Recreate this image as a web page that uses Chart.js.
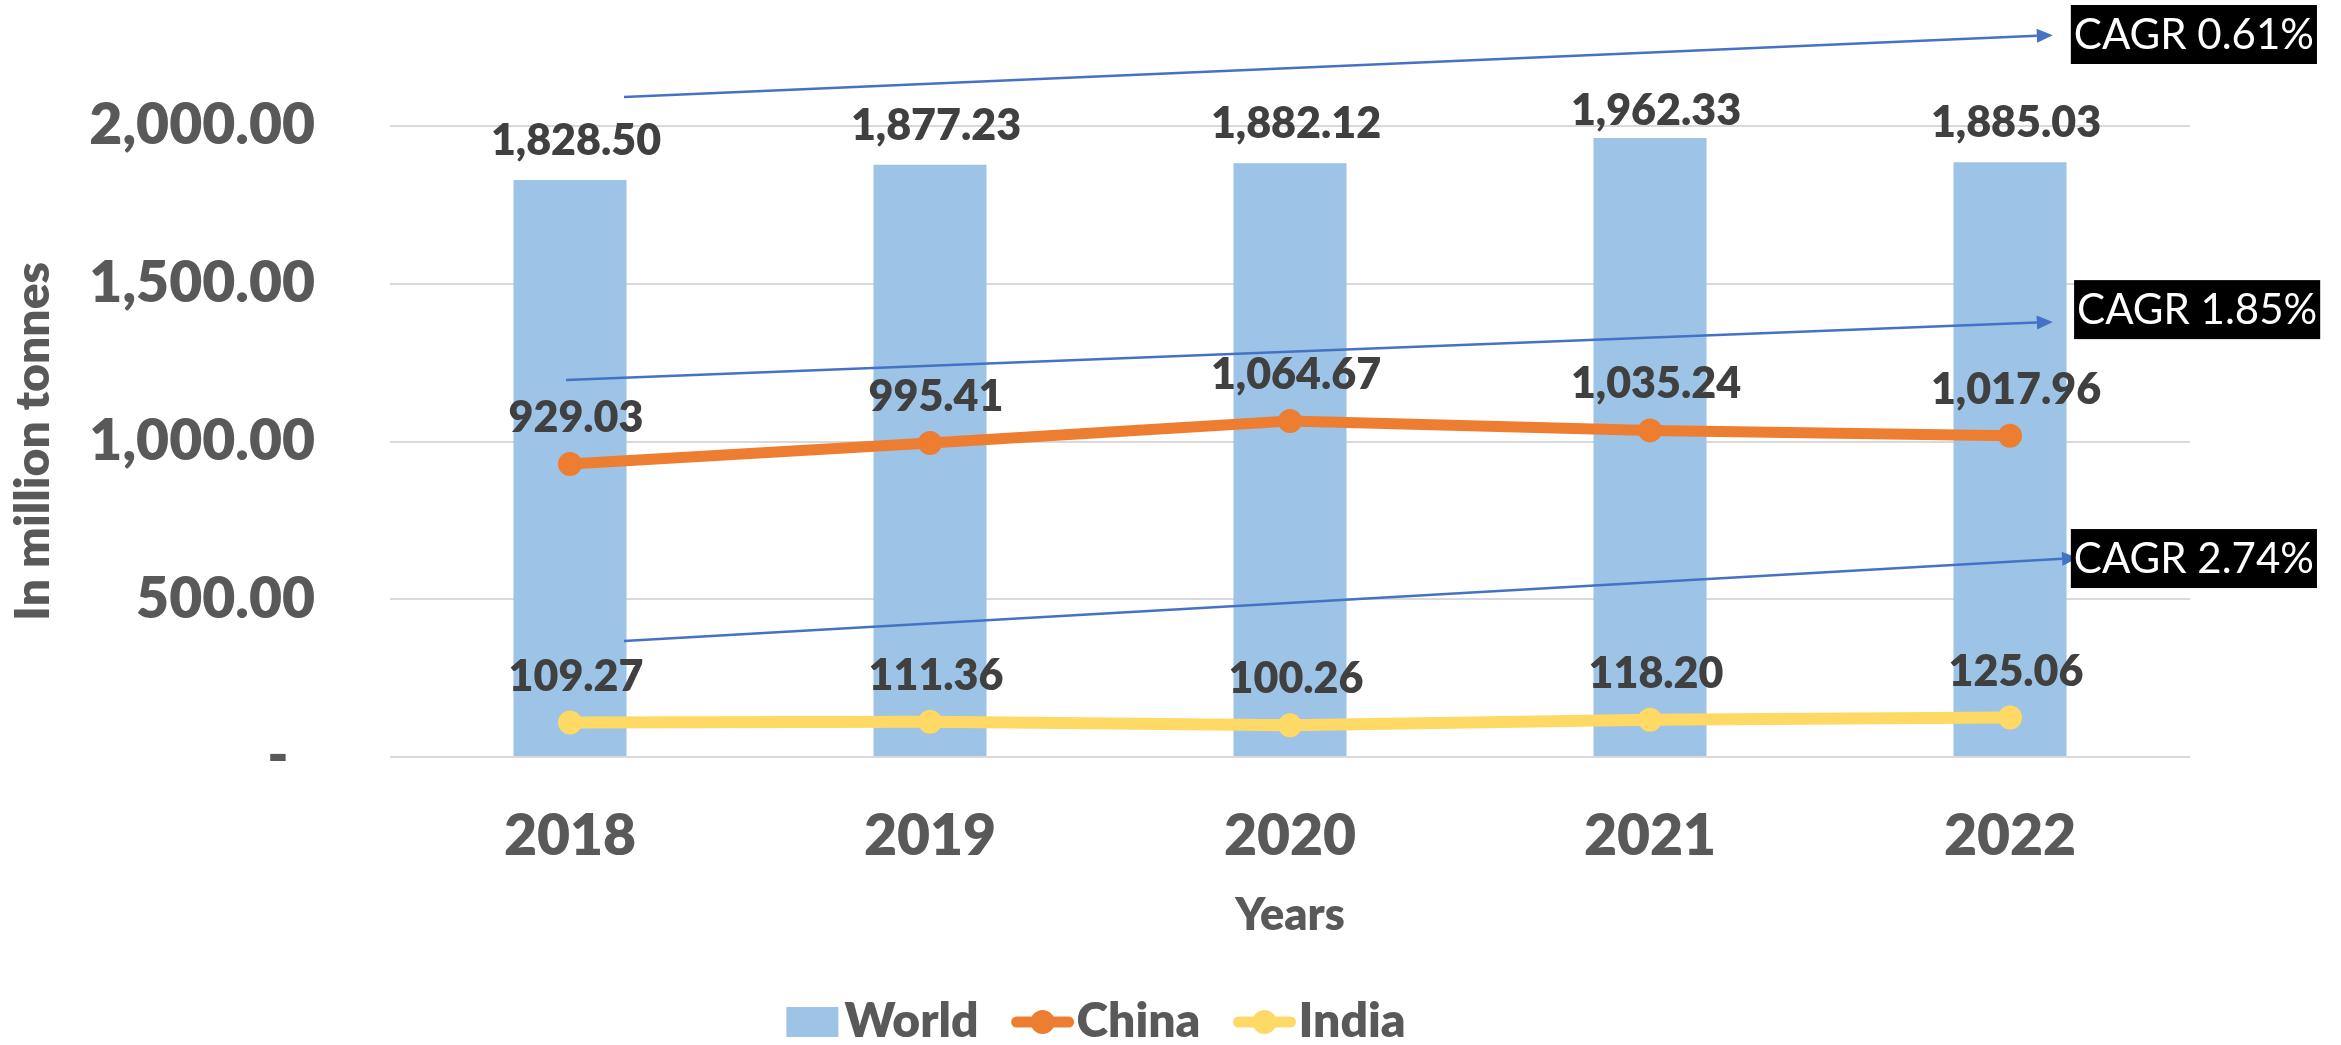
<!DOCTYPE html>
<html>
<head>
<meta charset="utf-8">
<script src="https://cdn.jsdelivr.net/npm/chart.js@4.4.1/dist/chart.umd.min.js"></script>
<style>
html,body{margin:0;padding:0;background:#ffffff;overflow:hidden}
#wrap{width:2341px;height:1045px;position:relative}
canvas{display:block}
</style>
</head>
<body>
<div id="wrap"><canvas id="c" width="2341" height="1045"></canvas></div>
<script>
// ---- data ----
const categories = ['2018', '2019', '2020', '2021', '2022'];
const worldValues = [1828.50, 1877.23, 1882.12, 1962.33, 1885.03];
const chinaValues = [929.03, 995.41, 1064.67, 1035.24, 1017.96];
const indiaValues = [109.27, 111.36, 100.26, 118.20, 125.06];
const yTickValues = [0, 500, 1000, 1500, 2000];
const seriesNames = ['World', 'China', 'India'];
const cagrLabels = ['CAGR 0.61%', 'CAGR 1.85%', 'CAGR 2.74%'];

// ---- annotation geometry (in axis units: category index, value) ----
const cagrGeometry = [
  { from: [0.15, 2092], to: [4.119, 2288], box: [4.169, 2290] },
  { from: [-0.011, 1195], to: [4.119, 1379], box: [4.178, 1418] },
  { from: [0.15, 368], to: [4.189, 631], box: [4.169, 629] }
];

// ---- styles ----
const FONT = 'Lato, "Open Sans", "DejaVu Sans", sans-serif';
const BOLD = '800';
const COLORS = { World: '#9DC3E6', China: '#ED7D31', India: '#FFD966' };
const AXIS_TEXT = '#595959';
const LABEL_TEXT = '#404040';
const GRID = '#D9D9D9';
const ARROW = '#4472C4';

function fmt(v) {
  const s = v.toFixed(2);
  const parts = s.split('.');
  parts[0] = parts[0].replace(/\B(?=(\d{3})+(?!\d))/g, ',');
  return parts.join('.');
}

const overlayPlugin = {
  id: 'overlay',
  afterDatasetsDraw(chart) {
    const ctx = chart.ctx;
    const xs = chart.scales.x, ys = chart.scales.y;
    // CAGR arrows
    ctx.save();
    cagrGeometry.forEach((g) => {
      const x1 = xs.getPixelForValue(g.from[0]), y1 = ys.getPixelForValue(g.from[1]);
      const x2 = xs.getPixelForValue(g.to[0]), y2 = ys.getPixelForValue(g.to[1]);
      const ang = Math.atan2(y2 - y1, x2 - x1);
      const headLen = 16, headHalf = 7;
      const bx = x2 - headLen * Math.cos(ang), by = y2 - headLen * Math.sin(ang);
      ctx.strokeStyle = ARROW;
      ctx.fillStyle = ARROW;
      ctx.lineWidth = 2.5;
      ctx.beginPath();
      ctx.moveTo(x1, y1);
      ctx.lineTo(bx, by);
      ctx.stroke();
      ctx.beginPath();
      ctx.moveTo(x2, y2);
      ctx.lineTo(bx + headHalf * Math.sin(ang), by - headHalf * Math.cos(ang));
      ctx.lineTo(bx - headHalf * Math.sin(ang), by + headHalf * Math.cos(ang));
      ctx.closePath();
      ctx.fill();
    });
    ctx.restore();

    // value labels
    ctx.save();
    ctx.font = BOLD + ' 43px ' + FONT;
    ctx.fillStyle = LABEL_TEXT;
    ctx.textAlign = 'center';
    ctx.textBaseline = 'alphabetic';
    chart.data.datasets.forEach((ds, di) => {
      const meta = chart.getDatasetMeta(di);
      meta.data.forEach((el, i) => {
        const txt = fmt(ds.data[i]);
        let base;
        if (meta.type === 'bar') base = Math.max(el.y - 25, chart.chartArea.top - 1);
        else base = el.y - 32;
        ctx.fillText(txt, el.x + 6, base);
      });
    });
    ctx.restore();

    // CAGR boxes
    ctx.save();
    ctx.font = '42px ' + FONT;
    ctx.textBaseline = 'middle';
    ctx.textAlign = 'left';
    cagrGeometry.forEach((g, k) => {
      const bxl = xs.getPixelForValue(g.box[0]);
      const byc = ys.getPixelForValue(g.box[1]);
      const w = ctx.measureText(cagrLabels[k]).width + 6;
      const h = 59;
      ctx.fillStyle = '#000000';
      ctx.fillRect(bxl, byc - h / 2, w, h);
      ctx.fillStyle = '#FFFFFF';
      ctx.fillText(cagrLabels[k], bxl + 3, byc + 1);
    });
    ctx.restore();
  },
  afterDraw(chart) {
    // custom legend
    const ctx = chart.ctx;
    ctx.save();
    ctx.font = BOLD + ' 48px ' + FONT;
    ctx.textBaseline = 'middle';
    ctx.textAlign = 'left';
    const cy = 1022;
    const items = chart.data.datasets.map((ds, i) => {
      const isBar = chart.getDatasetMeta(i).type === 'bar';
      return { text: ds.label, color: ds.backgroundColor, isBar,
        sym: isBar ? 52 : 62, gap: isBar ? 6 : 3,
        tw: ctx.measureText(ds.label).width };
    });
    const between = 33;
    let total = 0;
    items.forEach((it, i) => { total += it.sym + it.gap + it.tw + (i < items.length - 1 ? between : 0); });
    let x = 1096 - total / 2;
    items.forEach((it) => {
      if (it.isBar) {
        ctx.fillStyle = it.color;
        ctx.fillRect(x, cy - 15, it.sym, 30);
      } else {
        ctx.strokeStyle = it.color;
        ctx.lineWidth = 11;
        ctx.lineCap = 'round';
        ctx.beginPath();
        ctx.moveTo(x + 5, cy);
        ctx.lineTo(x + it.sym - 5, cy);
        ctx.stroke();
        ctx.fillStyle = it.color;
        ctx.beginPath();
        ctx.arc(x + it.sym / 2, cy, 12, 0, Math.PI * 2);
        ctx.fill();
      }
      x += it.sym + it.gap;
      ctx.fillStyle = AXIS_TEXT;
      ctx.fillText(it.text, x, cy);
      x += it.tw + between;
    });
    ctx.restore();
  }
};

function build() {
  const ctx = document.getElementById('c').getContext('2d');
  new Chart(ctx, {
    type: 'bar',
    data: {
      labels: categories,
      datasets: [
        { type: 'bar', label: seriesNames[0], data: worldValues,
          backgroundColor: COLORS.World, borderWidth: 0,
          barPercentage: 1, categoryPercentage: 0.314, order: 3 },
        { type: 'line', label: seriesNames[1], data: chinaValues,
          borderColor: COLORS.China, backgroundColor: COLORS.China,
          borderWidth: 11, pointRadius: 12, pointBorderWidth: 0,
          pointBackgroundColor: COLORS.China, tension: 0, order: 2, clip: false },
        { type: 'line', label: seriesNames[2], data: indiaValues,
          borderColor: COLORS.India, backgroundColor: COLORS.India,
          borderWidth: 12, pointRadius: 12, pointBorderWidth: 0,
          pointBackgroundColor: COLORS.India, tension: 0, order: 1, clip: false }
      ]
    },
    options: {
      responsive: false,
      devicePixelRatio: 1,
      animation: false,
      layout: { padding: { top: 126, right: 151, bottom: 0, left: 0 } },
      plugins: { legend: { display: false }, tooltip: { enabled: false } },
      scales: {
        x: {
          offset: true,
          grid: { display: false, drawTicks: false },
          border: { display: false },
          ticks: { color: AXIS_TEXT, font: { family: FONT, size: 57, weight: BOLD }, padding: 45, maxRotation: 0 },
          title: { display: true, text: 'Years', color: AXIS_TEXT,
            font: { family: FONT, size: 45, weight: BOLD }, padding: { top: 0, bottom: 103 } },
          afterFit(scale) { scale.height = 288; }
        },
        y: {
          min: 0, max: 2000,
          afterBuildTicks(scale) { scale.ticks = yTickValues.map(v => ({ value: v })); },
          grid: { color: GRID, lineWidth: 2, drawTicks: false },
          border: { display: false },
          ticks: { color: AXIS_TEXT, font: { family: FONT, size: 57, weight: BOLD }, padding: 75,
            callback: (v) => v === 0 ? '-  ' : fmt(v) },
          title: { display: true, text: 'In million tonnes', color: AXIS_TEXT,
            font: { family: FONT, size: 48, weight: BOLD }, padding: { top: 5, bottom: 0 } },
          afterFit(scale) { scale.width = 390; }
        }
      }
    },
    plugins: [overlayPlugin]
  });
}

if (document.fonts && document.fonts.load) {
  Promise.all([
    document.fonts.load(BOLD + ' 40px Lato'),
    document.fonts.load('40px Lato')
  ]).then(build, build);
} else {
  build();
}
</script>
</body>
</html>
